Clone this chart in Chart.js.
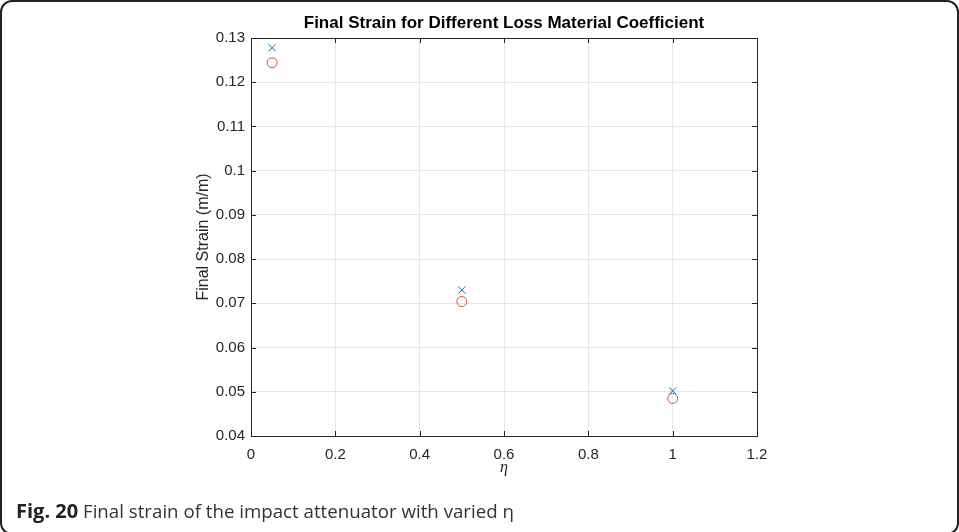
<!DOCTYPE html>
<html>
<head>
<meta charset="utf-8">
<script src="https://cdn.jsdelivr.net/npm/chart.js@4/dist/chart.umd.min.js"></script>
<style>
    html, body { margin: 0; padding: 0; background: #fff; overflow: hidden; }
    #frame {
        position: absolute; left: 0; top: 0; width: 955px; height: 531px;
        border: 2px solid #222; border-radius: 12px; overflow: hidden;
    }
    #wrap { position: absolute; left: -2px; top: -2px; width: 959px; height: 532px; }
    #caption {
        position: absolute; left: 14px; top: 495px;
        font-family: "Open Sans", "Noto Sans", sans-serif; font-size: 18.7px; color: #333;
        white-space: nowrap;
    }
    #caption b { font-weight: 700; color: #222; font-size: 20px; }
</style>
</head>
<body>
<div id="frame">
    <div id="wrap"><canvas id="chart" width="959" height="532"></canvas></div>
    <div id="caption"><b>Fig. 20</b> Final strain of the impact attenuator with varied η</div>
</div>
<script>
// loss material coefficient (eta)
const etaValues = [0.05, 0.5, 1];
// final strain, two result sets
const strainCross = [0.1278, 0.0730, 0.0502];
const strainCircle = [0.1244, 0.0704, 0.0485];
const xTicks = [0, 0.2, 0.4, 0.6, 0.8, 1, 1.2];
const yTicks = [0.04, 0.05, 0.06, 0.07, 0.08, 0.09, 0.1, 0.11, 0.12, 0.13];

const axisColor = '#262626';
const gridColor = '#e6e6e6';
const tickFont = { family: 'Liberation Sans, Arial, sans-serif', size: 15 };

function toPoints(xs, ys) {
    return xs.map((x, i) => ({ x: x, y: ys[i] }));
}

// MATLAB-style box with inward ticks and title
const boxPlugin = {
    id: 'boxPlugin',
    afterDatasetsDraw(chart) {
        const ctx = chart.ctx;
        const a = chart.chartArea;
        const xs = chart.scales.x;
        const ys = chart.scales.y;
        ctx.save();
        ctx.strokeStyle = axisColor;
        ctx.lineWidth = 1;
        ctx.strokeRect(Math.round(a.left) + 0.5, Math.round(a.top) + 0.5,
            Math.round(a.right - a.left), Math.round(a.bottom - a.top));
        ctx.beginPath();
        xTicks.forEach(v => {
            const px = Math.round(xs.getPixelForValue(v)) + 0.5;
            ctx.moveTo(px, a.bottom); ctx.lineTo(px, a.bottom - 5);
            ctx.moveTo(px, a.top); ctx.lineTo(px, a.top + 5);
        });
        yTicks.forEach(v => {
            const py = Math.round(ys.getPixelForValue(v)) + 0.5;
            ctx.moveTo(a.left, py); ctx.lineTo(a.left + 5, py);
            ctx.moveTo(a.right, py); ctx.lineTo(a.right - 5, py);
        });
        ctx.stroke();
        ctx.fillStyle = '#000';
        ctx.font = 'bold 17px "Liberation Sans", Arial, sans-serif';
        ctx.textAlign = 'center';
        ctx.textBaseline = 'middle';
        ctx.fillText('Final Strain for Different Loss Material Coefficient', (a.left + a.right) / 2, 23);
        ctx.restore();
    }
};

new Chart(document.getElementById('chart'), {
    type: 'scatter',
    data: {
        datasets: [{
            label: 'cross',
            data: toPoints(etaValues, strainCross),
            pointStyle: 'crossRot',
            pointRadius: 5,
            borderColor: '#0072BD',
            backgroundColor: '#0072BD',
            pointBorderWidth: 1,
        }, {
            label: 'circle',
            data: toPoints(etaValues, strainCircle),
            pointStyle: 'circle',
            pointRadius: 5,
            borderColor: '#D95319',
            backgroundColor: 'rgba(0,0,0,0)',
            pointBorderWidth: 1,
        }],
    },
    options: {
        responsive: false,
        animation: false,
        layout: { padding: { top: 38, right: 202, bottom: 51, left: 190 } },
        plugins: {
            legend: { display: false },
            tooltip: { enabled: false },
        },
        scales: {
            x: {
                type: 'linear',
                min: 0,
                max: 1.2,
                afterFit: function (scale) { scale.height = 45; },
                afterBuildTicks: function (scale) { scale.ticks = xTicks.map(v => ({ value: v })); },
                ticks: {
                    padding: 10,
                    color: axisColor,
                    font: tickFont,
                    maxRotation: 0,
                    callback: v => String(parseFloat(v.toFixed(1))),
                },
                grid: { color: gridColor, drawTicks: false },
                border: { display: false },
                title: {
                    display: true,
                    text: 'η',
                    color: axisColor,
                    font: { family: 'Liberation Serif, serif', size: 16, style: 'italic' },
                    padding: { top: 0, bottom: 4 },
                },
            },
            y: {
                type: 'linear',
                min: 0.04,
                max: 0.13,
                afterFit: function (scale) { scale.width = 61; },
                afterBuildTicks: function (scale) { scale.ticks = yTicks.map(v => ({ value: v })); },
                ticks: {
                    padding: 6,
                    color: axisColor,
                    font: tickFont,
                    callback: v => String(parseFloat(v.toFixed(2))),
                },
                grid: { color: gridColor, drawTicks: false },
                border: { display: false },
                title: {
                    display: true,
                    text: 'Final Strain (m/m)',
                    color: axisColor,
                    font: { family: 'Liberation Sans, Arial, sans-serif', size: 16 },
                    padding: { top: 4, bottom: 0 },
                },
            },
        },
    },
    plugins: [boxPlugin],
});
</script>
</body>
</html>
